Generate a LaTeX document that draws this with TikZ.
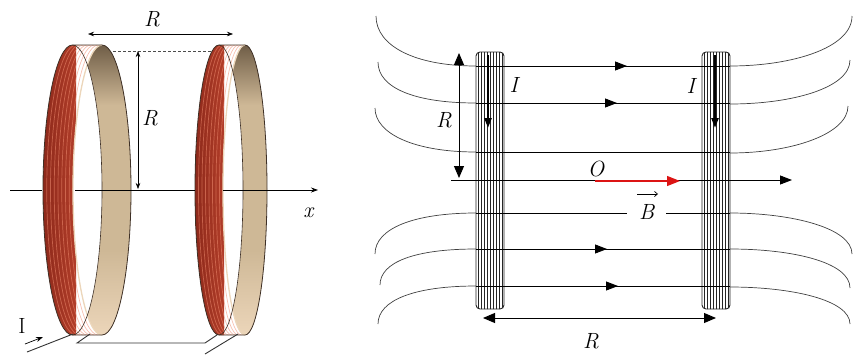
\documentclass[tikz,border=0pt]{standalone}
\usetikzlibrary{arrows.meta}
\definecolor{coildark}{RGB}{140,40,26}
\definecolor{coilmid}{RGB}{214,82,56}
\definecolor{coillight}{RGB}{240,140,112}
\definecolor{rimdark}{RGB}{110,92,70}
\definecolor{rimmid}{RGB}{206,184,150}
\definecolor{rimlight}{RGB}{236,214,186}
\definecolor{ringedge}{RGB}{62,48,38}
\definecolor{bfield}{RGB}{220,20,20}
\begin{document}
\begin{tikzpicture}[x=1pt,y=-1pt,
  lbl/.style={font=\fontsize{22}{24}\selectfont, inner sep=0pt},
  stripe/.style={line width=0.7pt, draw=coillight, opacity=0.55},
  rimlip/.style={line width=1.3pt, draw=rimlight},
  edgeline/.style={line width=0.8pt, draw=ringedge},
  smalltip/.style={-{Stealth[length=7pt,width=5pt]}, line width=0.8pt},
  smalldim/.style={{Stealth[length=6pt,width=4.5pt]}-{Stealth[length=6pt,width=4.5pt]}, line width=0.6pt},
  fline/.style={line width=0.9pt},
  fcurve/.style={line width=0.7pt, draw=black!75},
  ftip/.style={-{Triangle[length=12pt,width=9pt]}, line width=0.9pt},
  bigdim/.style={{Triangle[length=12pt,width=10pt]}-{Triangle[length=12pt,width=10pt]}, line width=0.9pt},
  current/.style={-{Triangle[length=10pt,width=7pt]}, line width=2.4pt},
  hatch/.style={line width=1pt, draw=black!85},
  wire/.style={line width=0.9pt, draw=black!80}]

\useasboundingbox (0,0) rectangle (856,354);

% ---------- left: two coils on a common axis ----------
% front centre / back centre / front x radius / back x radius / shading span
\foreach \cf/\cb/\rf/\rb/\sa/\sb in {72.5/102/29.5/29/42/76, 219/245/24/22/194/224}{
  % where the front and back rims cross (edges of the opening)
  \pgfmathsetmacro\xi{(\cf*\rb+\cb*\rf)/(\rf+\rb)}
  \pgfmathsetmacro\ang{acos((\xi-\cf)/\rf)}
  \pgfmathsetmacro\yi{190-145*sin(\ang)}
  \pgfmathsetmacro\angn{-\ang}
  \pgfmathsetmacro\anga{180-\ang}
  \pgfmathsetmacro\angb{180+\ang}
  % wound outer face
  \begin{scope}
    \clip (\cf,45) arc[start angle=270,end angle=90,x radius=\rf,y radius=145]
          -- (\cb,335) arc[start angle=90,end angle=-90,x radius=\rb,y radius=145] -- cycle;
    \shade[left color=coildark, middle color=coilmid, right color=coildark!50!coilmid]
          (\sa,40) rectangle (\sb,340);
    \foreach \k in {1,...,7}{
      \pgfmathsetmacro\stx{\cf+\k/8*(\cb-\cf)}
      \pgfmathsetmacro\srad{\rf+\k/8*(\rb-\rf)}
      \draw[stripe] (\stx,45) arc[start angle=270,end angle=90,x radius=\srad,y radius=145];
    }
  \end{scope}
  % inner face of the former
  \fill[rimmid] (\cb,190) ellipse[x radius=\rb, y radius=145];
  \begin{scope}
    \clip (\cb,190) ellipse[x radius=\rb, y radius=145];
    \shade[top color=rimdark, bottom color=rimmid] (\sa,44) rectangle (\cb+\rb+2,105);
    \shade[top color=rimmid, bottom color=rimlight] (\sa,250) rectangle (\cb+\rb+2,336);
  \end{scope}
  % opening
  \fill[white] (\xi,\yi) arc[start angle=\angn,end angle=\ang,x radius=\rf,y radius=145]
               arc[start angle=\anga,end angle=\angb,x radius=\rb,y radius=145] -- cycle;
  \draw[rimlip] (\cb,45) arc[start angle=270,end angle=90,x radius=\rb,y radius=145];
  \draw[edgeline, line width=0.6pt] (\cf,45) arc[start angle=-90,end angle=90,x radius=\rf,y radius=145];
  \draw[edgeline] (\cf,45) arc[start angle=270,end angle=90,x radius=\rf,y radius=145]
          -- (\cb,335) arc[start angle=90,end angle=-90,x radius=\rb,y radius=145] -- cycle;
}

% x axis, hidden behind the wound faces
\coordinate (ax0) at (10,190);
\coordinate (ax1) at (42,190);
\coordinate (ax2) at (75,190);
\coordinate (ax3) at (195,190);
\coordinate (ax4) at (223,190);
\coordinate (ax5) at (318,190);
\draw[line width=0.8pt] (ax0) -- (ax1);
\draw[line width=0.8pt] (ax2) -- (ax3);
\draw[smalltip] (ax4) -- (ax5);
\node[lbl] (xlab) at (309,213) {\textit{x}};

% spacing and radius
\coordinate (dl) at (88,34);
\coordinate (dr) at (233,34);
\draw[smalldim] (dl) -- (dr);
\node[lbl] (rtop) at (152,19) {\textit{R}};
\coordinate (dsh0) at (113,51);
\coordinate (dsh1) at (212,51);
\draw[line width=0.6pt, draw=black!70, dash pattern=on 3pt off 2pt] (dsh0) -- (dsh1);
\coordinate (rv0) at (138,51);
\coordinate (rv1) at (138,189);
\draw[smalldim] (rv0) -- (rv1);
\node[lbl] (rmid) at (150,118) {\textit{R}};

% supply leads
\draw[wire] (27,352) -- (73,334);
\draw[wire] (90,334) -- (77,343) -- (205,343) -- (217,335);
\draw[wire] (205,354) -- (238,334);
\coordinate (ia) at (25,344);
\coordinate (ib) at (43,337);
\draw[smalltip, line width=0.7pt] (ia) -- (ib);
\node[lbl] (ilead) at (22,326) {I};

% ---------- right: field of the coil pair ----------
\foreach \bx in {476,702}{
  \begin{scope}
    \clip[rounded corners=4pt] (\bx,52) rectangle ++(28,257);
    \fill[white] (\bx,52) rectangle ++(28,257);
    \foreach \k in {0,...,8}
      \draw[hatch] ({\bx+2+3*\k},50) -- ({\bx+2+3*\k},312);
  \end{scope}
  \draw[line width=0.9pt, rounded corners=4pt, draw=black!85] (\bx,52) rectangle ++(28,257);
}

% field lines above the axis
\draw[fcurve] (376,16) .. controls (376,46) and (415,66) .. (476,66);
\draw[fline] (476,66) -- (730,66);
\draw[ftip] (476,66) -- (627,66);
\draw[fcurve] (730,66) .. controls (792,66) and (852,48) .. (852,16);

\draw[fcurve] (378,62) .. controls (378,88) and (415,103) .. (476,103);
\draw[fline] (476,103) -- (730,103);
\draw[ftip] (476,103) -- (617,103);
\draw[fcurve] (730,104) .. controls (792,104) and (850,88) .. (850,60);

\draw[fcurve] (375,108) .. controls (375,134) and (415,152) .. (476,152);
\draw[fline] (476,152) -- (730,152);
\draw[fcurve] (730,153) .. controls (792,153) and (848,134) .. (848,106);

% axis with the field vector at O
\coordinate (a0) at (451,180);
\coordinate (a1) at (792,180);
\draw[ftip] (a0) -- (a1);
\coordinate (o) at (595,181);
\coordinate (btip) at (680,181);
\draw[-{Triangle[length=13pt,width=10pt]}, line width=1.3pt, draw=bfield, fill=bfield] (o) -- (btip);
\node[lbl] (olab) at (596,169) {\textit{O}};

% field lines below the axis
\coordinate (g0) at (476,213);
\coordinate (g1) at (627,213);
\coordinate (g2) at (666,213);
\coordinate (g3) at (730,213);
\draw[fcurve] (g0) .. controls (415,213) and (375,228) .. (375,254);
\draw[fline] (g0) -- (g1);
\draw[fline] (g2) -- (g3);
\draw[fcurve] (g3) .. controls (792,213) and (852,228) .. (852,254);
\node[lbl] (blab) at (647,212) {\textit{B}};
\coordinate (bv0) at (637,194);
\coordinate (bv1) at (658,194);
\draw[-{Straight Barb[length=3pt,width=5pt]}, line width=0.7pt] (bv0) -- (bv1);

\draw[fcurve] (476,249) .. controls (415,249) and (380,262) .. (380,285);
\draw[fline] (476,249) -- (730,249);
\draw[ftip] (476,249) -- (607,249);
\draw[fcurve] (730,249) .. controls (792,249) and (850,262) .. (850,288);

\draw[fcurve] (476,286) .. controls (415,286) and (378,300) .. (378,324);
\draw[fline] (476,286) -- (730,286);
\draw[ftip] (476,286) -- (618,286);
\draw[fcurve] (730,287) .. controls (792,287) and (850,300) .. (850,324);

% currents in the windings
\coordinate (c0) at (488,55);
\coordinate (c1) at (488,128);
\coordinate (c2) at (715,55);
\coordinate (c3) at (715,128);
\draw[current] (c0) -- (c1);
\draw[current] (c2) -- (c3);
\node[lbl] (il) at (515,85) {\textit{I}};
\node[lbl] (ir) at (692,86) {\textit{I}};

% radius and spacing
\coordinate (r0) at (459,53);
\coordinate (r1) at (459,178);
\draw[bigdim] (r0) -- (r1);
\node[lbl] (rl) at (444,120) {\textit{R}};
\coordinate (s0) at (483,318);
\coordinate (s1) at (716,318);
\draw[bigdim] (s0) -- (s1);
\node[lbl] (rb) at (591,341) {\textit{R}};
\end{tikzpicture}
\end{document}
